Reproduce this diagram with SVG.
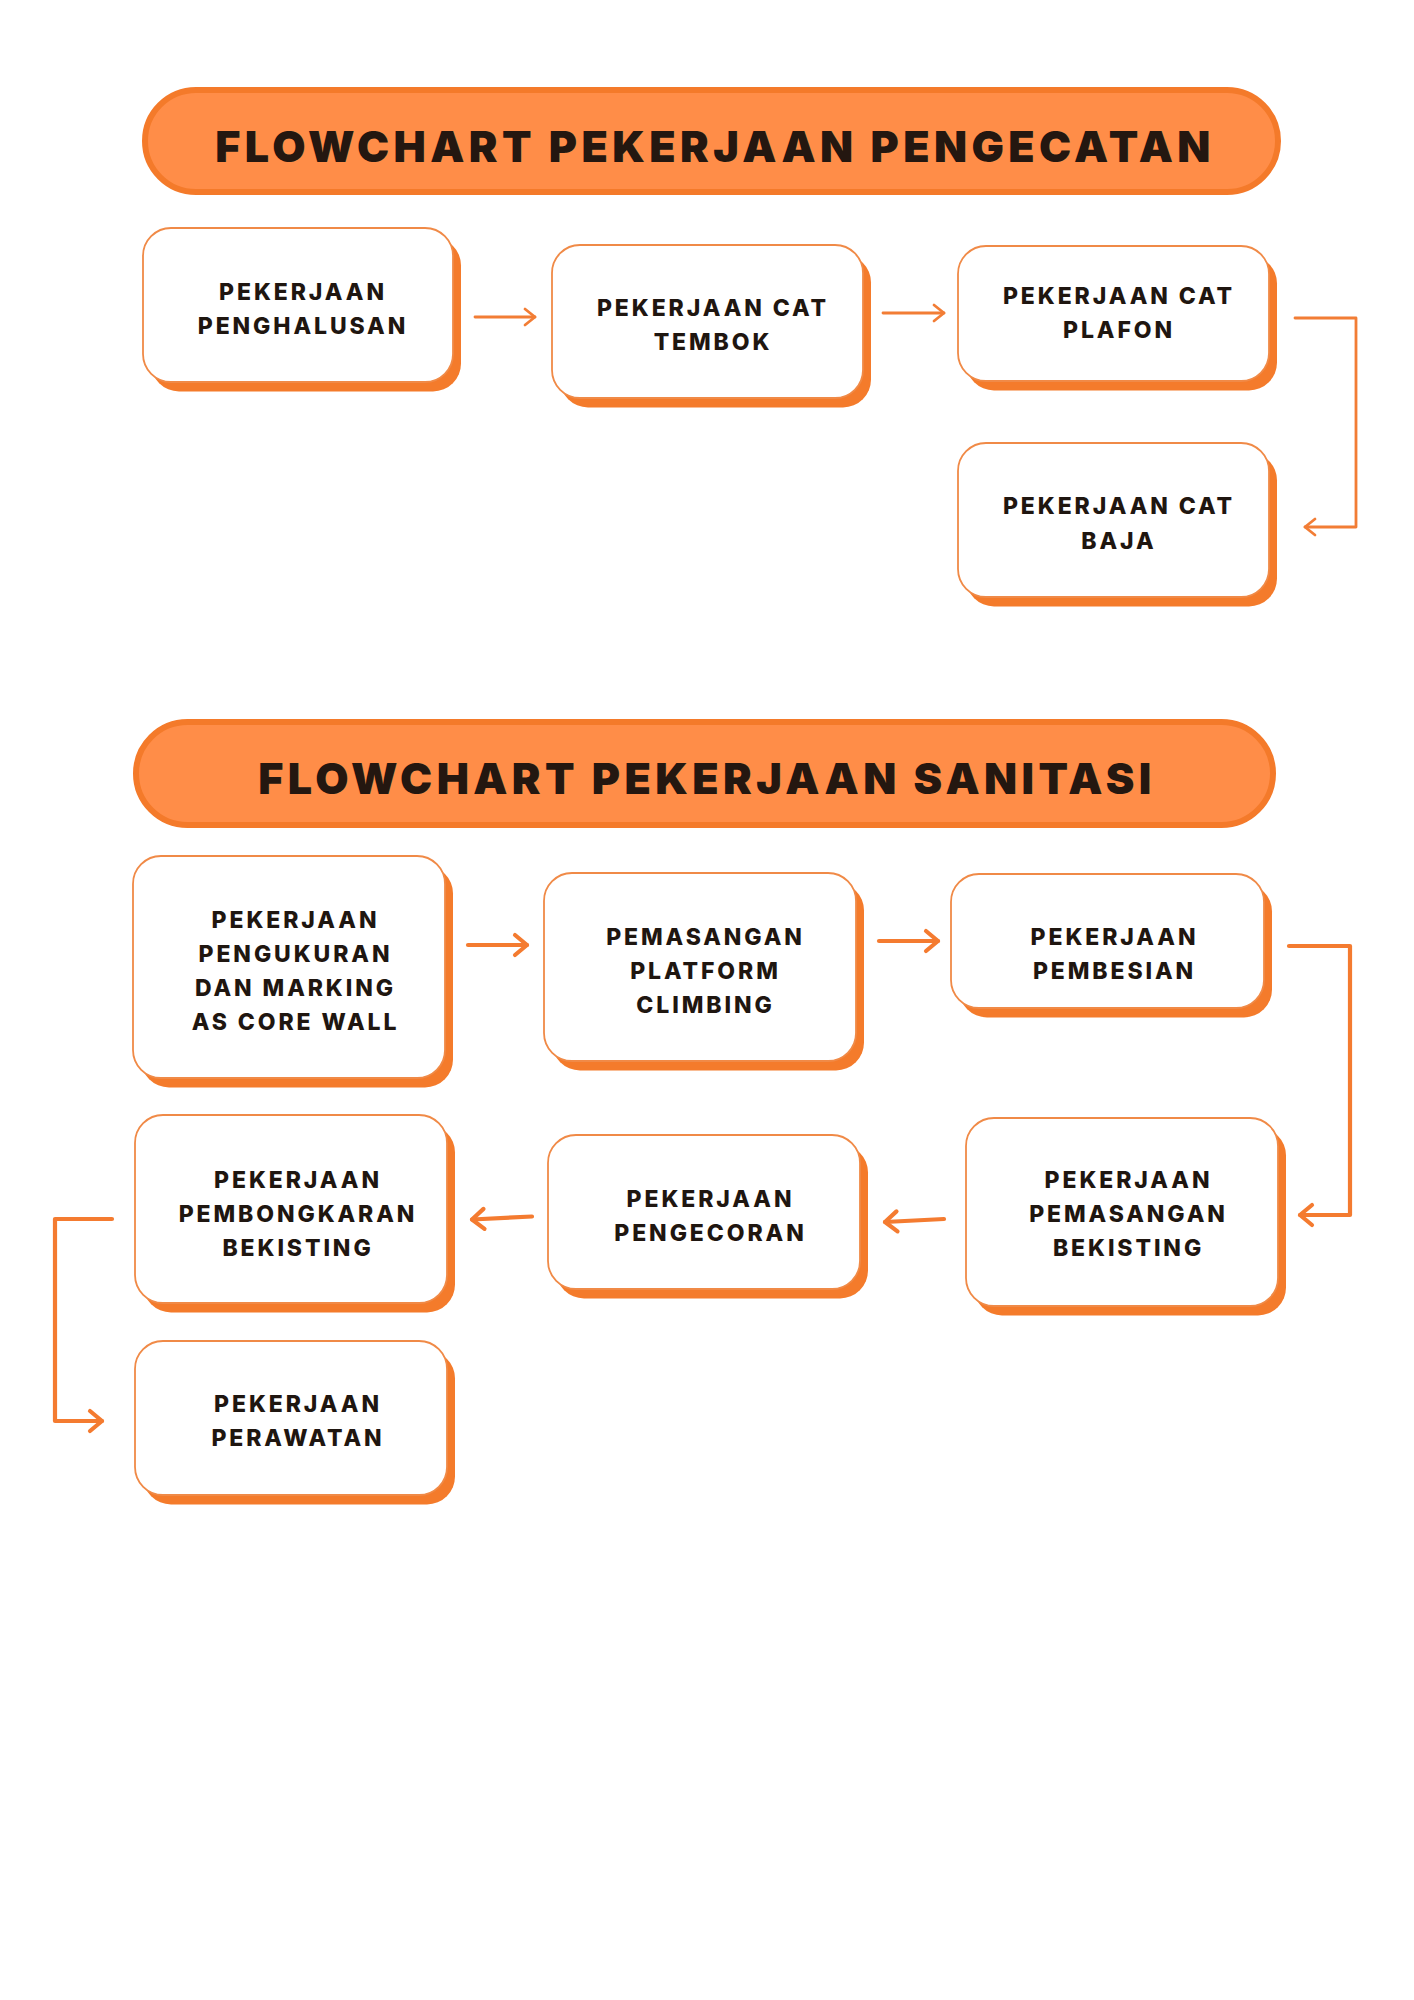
<svg xmlns="http://www.w3.org/2000/svg" width="1414" height="2000" viewBox="0 0 1414 2000">
<defs>
<style>
.banner{fill:#FF8D48;stroke:#F47A2A;stroke-width:6}
.title{font-family:Inter,"Liberation Sans",sans-serif;font-weight:900;font-size:43px;letter-spacing:4.4px;fill:#241710;text-anchor:middle}
.shadow{fill:#F47B2B}
.box{fill:#FFFFFF;stroke:#F08A47;stroke-width:1.8}
.lbl{font-family:Inter,"Liberation Sans",sans-serif;font-weight:800;font-size:23px;letter-spacing:2.9px;fill:#1F1610;text-anchor:middle}
.c1{fill:none;stroke:#F27D35;stroke-width:2.8;stroke-linecap:round;stroke-linejoin:round}
.c2{fill:none;stroke:#F47B30;stroke-width:4.2;stroke-linecap:round;stroke-linejoin:round}
</style>
<marker id="a1" markerUnits="userSpaceOnUse" viewBox="-14 -12 16 24" markerWidth="16" markerHeight="24" refX="0" refY="0" orient="auto">
<path d="M-10,-8 L0,0 L-10,8" fill="none" stroke="#F27D35" stroke-width="2.8" stroke-linecap="round" stroke-linejoin="round"/>
</marker>
<marker id="a2" markerUnits="userSpaceOnUse" viewBox="-16 -14 20 28" markerWidth="20" markerHeight="28" refX="0" refY="0" orient="auto">
<path d="M-12,-10 L0,0 L-12,10" fill="none" stroke="#F47B30" stroke-width="4.2" stroke-linecap="round" stroke-linejoin="round"/>
</marker>
</defs>
<rect width="1414" height="2000" fill="#FFFFFF"/>

<g id="title1">
<rect class="banner" x="145" y="90" width="1133" height="102" rx="51"/>
<text class="title" x="715" y="162">FLOWCHART PEKERJAAN PENGECATAN</text>
</g>

<g id="n1">
<rect class="shadow" x="151" y="237.5" width="310" height="154" rx="28"/>
<rect class="box" x="143" y="228" width="310" height="154" rx="28"/>
<text class="lbl" x="303" y="300">PEKERJAAN</text>
<text class="lbl" x="303" y="334">PENGHALUSAN</text>
</g>
<g id="n2">
<rect class="shadow" x="560" y="254.5" width="311" height="153" rx="28"/>
<rect class="box" x="552" y="245" width="311" height="153" rx="28"/>
<text class="lbl" x="713" y="316">PEKERJAAN CAT</text>
<text class="lbl" x="713" y="350">TEMBOK</text>
</g>
<g id="n3">
<rect class="shadow" x="966" y="255.5" width="311" height="135" rx="28"/>
<rect class="box" x="958" y="246" width="311" height="135" rx="28"/>
<text class="lbl" x="1119" y="304">PEKERJAAN CAT</text>
<text class="lbl" x="1119" y="338">PLAFON</text>
</g>
<g id="n4">
<rect class="shadow" x="966" y="452.5" width="311" height="154" rx="28"/>
<rect class="box" x="958" y="443" width="311" height="154" rx="28"/>
<text class="lbl" x="1119" y="514">PEKERJAAN CAT</text>
<text class="lbl" x="1119" y="549">BAJA</text>
</g>

<g id="title2">
<rect class="banner" x="136" y="722" width="1137" height="103" rx="51.5"/>
<text class="title" x="707" y="794">FLOWCHART PEKERJAAN SANITASI</text>
</g>

<g id="s1">
<rect class="shadow" x="141" y="865.5" width="312" height="222" rx="28"/>
<rect class="box" x="133" y="856" width="312" height="222" rx="28"/>
<text class="lbl" x="295.5" y="928">PEKERJAAN</text>
<text class="lbl" x="295.5" y="962">PENGUKURAN</text>
<text class="lbl" x="295.5" y="996">DAN MARKING</text>
<text class="lbl" x="295.5" y="1030">AS CORE WALL</text>
</g>
<g id="s2">
<rect class="shadow" x="552" y="882.5" width="312" height="188" rx="28"/>
<rect class="box" x="544" y="873" width="312" height="188" rx="28"/>
<text class="lbl" x="705.5" y="945">PEMASANGAN</text>
<text class="lbl" x="705.5" y="979">PLATFORM</text>
<text class="lbl" x="705.5" y="1013">CLIMBING</text>
</g>
<g id="s3">
<rect class="shadow" x="959" y="883.5" width="313" height="134" rx="28"/>
<rect class="box" x="951" y="874" width="313" height="134" rx="28"/>
<text class="lbl" x="1114.5" y="945">PEKERJAAN</text>
<text class="lbl" x="1114.5" y="979">PEMBESIAN</text>
</g>
<g id="s4">
<rect class="shadow" x="974" y="1127.5" width="312" height="188" rx="28"/>
<rect class="box" x="966" y="1118" width="312" height="188" rx="28"/>
<text class="lbl" x="1128.5" y="1188">PEKERJAAN</text>
<text class="lbl" x="1128.5" y="1222">PEMASANGAN</text>
<text class="lbl" x="1128.5" y="1256">BEKISTING</text>
</g>
<g id="s5">
<rect class="shadow" x="556" y="1144.5" width="312" height="154" rx="28"/>
<rect class="box" x="548" y="1135" width="312" height="154" rx="28"/>
<text class="lbl" x="710.5" y="1207">PEKERJAAN</text>
<text class="lbl" x="710.5" y="1241">PENGECORAN</text>
</g>
<g id="s6">
<rect class="shadow" x="143" y="1124.5" width="312" height="188" rx="28"/>
<rect class="box" x="135" y="1115" width="312" height="188" rx="28"/>
<text class="lbl" x="298" y="1188">PEKERJAAN</text>
<text class="lbl" x="298" y="1222">PEMBONGKARAN</text>
<text class="lbl" x="298" y="1256">BEKISTING</text>
</g>
<g id="s7">
<rect class="shadow" x="143" y="1350.5" width="312" height="154" rx="28"/>
<rect class="box" x="135" y="1341" width="312" height="154" rx="28"/>
<text class="lbl" x="298" y="1412">PEKERJAAN</text>
<text class="lbl" x="298" y="1446">PERAWATAN</text>
</g>

<g id="connectors">
<path class="c1" d="M475,317 L535,317" marker-end="url(#a1)"/>
<path class="c1" d="M883,313 L944,313" marker-end="url(#a1)"/>
<path class="c1" d="M1295,318 L1356,318 L1356,527 L1305,527" marker-end="url(#a1)"/>
<path class="c2" d="M468,945 L527,945" marker-end="url(#a2)"/>
<path class="c2" d="M879,941 L938,941" marker-end="url(#a2)"/>
<path class="c2" d="M1289,946 L1350,946 L1350,1215 L1300,1215" marker-end="url(#a2)"/>
<path class="c2" d="M944,1219 L885,1222" marker-end="url(#a2)"/>
<path class="c2" d="M532,1216.5 L472,1219.5" marker-end="url(#a2)"/>
<path class="c2" d="M112,1219 L55,1219 L55,1421 L102,1421" marker-end="url(#a2)"/>
</g>
</svg>
